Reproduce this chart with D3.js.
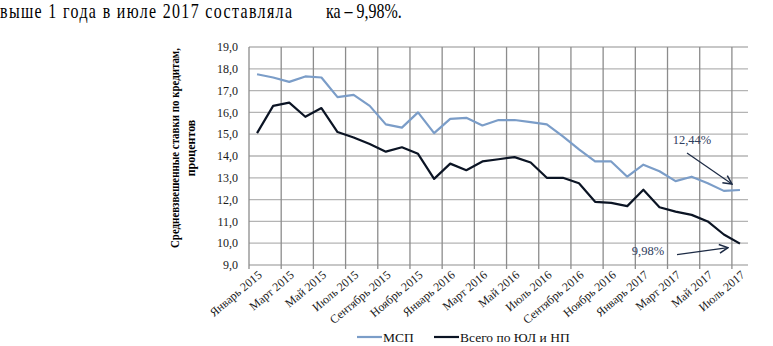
<!DOCTYPE html>
<html>
<head>
<meta charset="utf-8">
<script src="https://cdn.jsdelivr.net/npm/d3@7"></script>
<style>
  body { margin: 0; background: #fff; }
</style>
</head>
<body>
<div id="chart"></div>
<script>
// months Jan 2015 .. Jul 2017
const months = ["Январь 2015", "Февраль 2015", "Март 2015", "Апрель 2015", "Май 2015", "Июнь 2015",
	"Июль 2015", "Август 2015", "Сентябрь 2015", "Октябрь 2015", "Ноябрь 2015", "Декабрь 2015",
	"Январь 2016", "Февраль 2016", "Март 2016", "Апрель 2016", "Май 2016", "Июнь 2016",
	"Июль 2016", "Август 2016", "Сентябрь 2016", "Октябрь 2016", "Ноябрь 2016", "Декабрь 2016",
	"Январь 2017", "Февраль 2017", "Март 2017", "Апрель 2017", "Май 2017", "Июнь 2017", "Июль 2017"];

const mspValues = [17.75, 17.6, 17.4, 17.65, 17.6, 16.7, 16.8, 16.3, 15.45, 15.3, 16.0, 15.05,
	15.7, 15.75, 15.4, 15.65, 15.65, 15.55, 15.45, 14.9, 14.3, 13.75, 13.75, 13.05,
	13.6, 13.3, 12.85, 13.05, 12.75, 12.4, 12.44];

const totalValues = [15.05, 16.3, 16.45, 15.8, 16.2, 15.1, 14.85, 14.55, 14.2, 14.4, 14.1, 12.95,
	13.65, 13.35, 13.75, 13.85, 13.95, 13.7, 13.0, 13.0, 12.75, 11.9, 11.85, 11.7,
	12.45, 11.65, 11.45, 11.3, 11.0, 10.4, 9.98];

const yTicks = [9, 10, 11, 12, 13, 14, 15, 16, 17, 18, 19];
const seriesNames = ["МСП", "Всего по ЮЛ и НП"];
const yTitle = ["Средневзвешенные ставки по кредитам,", "процентов"];

let width = 773;
let height = 346;
let margin = { top: 47, right: 25, bottom: 81, left: 249 };
let serif = "'Liberation Serif', 'DejaVu Serif', 'Times New Roman', serif";

let svg = d3.select("#chart")
	.append("svg")
	.attr("width", width)
	.attr("height", height)
	.attr("font-family", serif);

// text line above the chart (part of the page, horizontally squeezed like the scan)
let header = svg.append("g")
	.attr("transform", "scale(0.76,1)");
header.append("text")
	.attr("x", 0)
	.attr("y", 18)
	.attr("textLength", 292 / 0.76)
	.attr("lengthAdjust", "spacing")
	.attr("font-family", serif)
	.attr("font-size", 21)
	.text("выше 1 года в июле 2017 составляла");
header.append("text")
	.attr("x", 326 / 0.76)
	.attr("y", 18)
	.attr("font-family", serif)
	.attr("font-size", 21)
	.text("ка – 9,98%.");

let xScale = d3.scaleBand()
	.domain(months)
	.range([margin.left, width - margin.right])
	.padding(0);

let yScale = d3.scaleLinear()
	.domain([9, 19])
	.range([height - margin.bottom, margin.top]);

// horizontal gridlines
svg.append("g")
	.selectAll("line")
	.data(yTicks)
	.enter()
	.append("line")
	.attr("x1", margin.left)
	.attr("x2", width - margin.right)
	.attr("y1", d => yScale(d))
	.attr("y2", d => yScale(d))
	.style("stroke", "#b4b4b4")
	.style("stroke-width", 1.3);

// vertical gridlines every second month
let tickMonths = months.filter((d, i) => i % 2 === 0);
svg.append("g")
	.selectAll("line")
	.data(tickMonths)
	.enter()
	.append("line")
	.attr("x1", d => xScale(d))
	.attr("x2", d => xScale(d))
	.attr("y1", yScale(19))
	.attr("y2", yScale(9) + 4)
	.style("stroke", "#8c8c8c")
	.style("stroke-width", 1.3);

// Y tick labels
svg.append("g")
	.selectAll("text")
	.data(yTicks)
	.enter()
	.append("text")
	.attr("x", margin.left - 11)
	.attr("y", d => yScale(d))
	.attr("dy", "0.35em")
	.attr("font-family", serif)
	.attr("font-size", 12)
	.style("text-anchor", "end")
	.style("fill", "#1a1a1a")
	.text(d => d.toFixed(1).replace(".", ","));

// X tick labels
svg.append("g")
	.selectAll("text")
	.data(tickMonths)
	.enter()
	.append("text")
	.attr("transform", d => "translate(" + (xScale(d) + xScale.bandwidth() / 2 + 3) + "," + (yScale(9) + 8) + ") rotate(-40)")
	.attr("dy", "0.35em")
	.attr("font-family", serif)
	.attr("font-size", 12)
	.style("text-anchor", "end")
	.style("fill", "#1a1a1a")
	.text(d => d);

// lines
let line = d3.line()
	.x((d, i) => xScale(months[i]) + xScale.bandwidth() / 2)
	.y(d => yScale(d));

svg.append("path")
	.datum(mspValues)
	.attr("d", line)
	.style("fill", "none")
	.style("stroke", "#7b9dc8")
	.style("stroke-width", 2.2)
	.style("stroke-linejoin", "round");

svg.append("path")
	.datum(totalValues)
	.attr("d", line)
	.style("fill", "none")
	.style("stroke", "#0b1424")
	.style("stroke-width", 2.2)
	.style("stroke-linejoin", "round");

// Y-axis title
yTitle.forEach((t, i) => {
	svg.append("text")
		.attr("transform", "translate(" + (179 + i * 16) + "," + 148 + ") rotate(-90)")
		.attr("font-family", serif)
		.attr("font-size", 12)
		.attr("font-weight", "bold")
		.attr("textLength", i === 0 ? 200 : null)
		.attr("lengthAdjust", "spacingAndGlyphs")
		.style("text-anchor", "middle")
		.text(t);
});

// Annotations
svg.append("defs").append("marker")
	.attr("id", "arrow")
	.attr("viewBox", "0 0 10 10")
	.attr("refX", 9)
	.attr("refY", 5)
	.attr("markerWidth", 9)
	.attr("markerHeight", 9)
	.attr("orient", "auto")
	.append("path")
	.attr("d", "M1,1 L9,5 L1,9")
	.style("fill", "none")
	.style("stroke", "#1c2a44")
	.style("stroke-width", 1.4);

let last = months.length - 1;
let lastX = xScale(months[last]) + xScale.bandwidth() / 2;

svg.append("text")
	.attr("x", 692)
	.attr("y", yScale(mspValues[last]) - 46)
	.attr("font-family", serif)
	.attr("font-size", 12.5)
	.style("text-anchor", "middle")
	.style("fill", "#2f4060")
	.text(mspValues[last].toFixed(2).replace(".", ",") + "%");
svg.append("line")
	.attr("x1", 687)
	.attr("y1", yScale(mspValues[last]) - 37)
	.attr("x2", lastX - 8)
	.attr("y2", yScale(mspValues[last]) - 6)
	.attr("marker-end", "url(#arrow)")
	.style("stroke", "#1c2a44")
	.style("stroke-width", 1.2);

svg.append("text")
	.attr("x", 648)
	.attr("y", yScale(totalValues[last]) + 11)
	.attr("font-family", serif)
	.attr("font-size", 12.5)
	.style("text-anchor", "middle")
	.style("fill", "#2f4060")
	.text(totalValues[last].toFixed(2).replace(".", ",") + "%");
svg.append("line")
	.attr("x1", 677)
	.attr("y1", yScale(totalValues[last]) + 11)
	.attr("x2", lastX - 12)
	.attr("y2", yScale(totalValues[last]) + 4)
	.attr("marker-end", "url(#arrow)")
	.style("stroke", "#1c2a44")
	.style("stroke-width", 1.2);

// Legend
let legendColors = ["#7b9dc8", "#0b1424"];
let legendX = [357, 434];
seriesNames.forEach((name, i) => {
	svg.append("line")
		.attr("x1", legendX[i])
		.attr("x2", legendX[i] + 25)
		.attr("y1", 337)
		.attr("y2", 337)
		.style("stroke", legendColors[i])
		.style("stroke-width", 2.2);
	svg.append("text")
		.attr("x", legendX[i] + 26)
		.attr("y", 337)
		.attr("dy", "0.35em")
		.attr("font-family", serif)
		.attr("font-size", 13.5)
		.style("fill", "#111")
		.text(name);
});
</script>
</body>
</html>
